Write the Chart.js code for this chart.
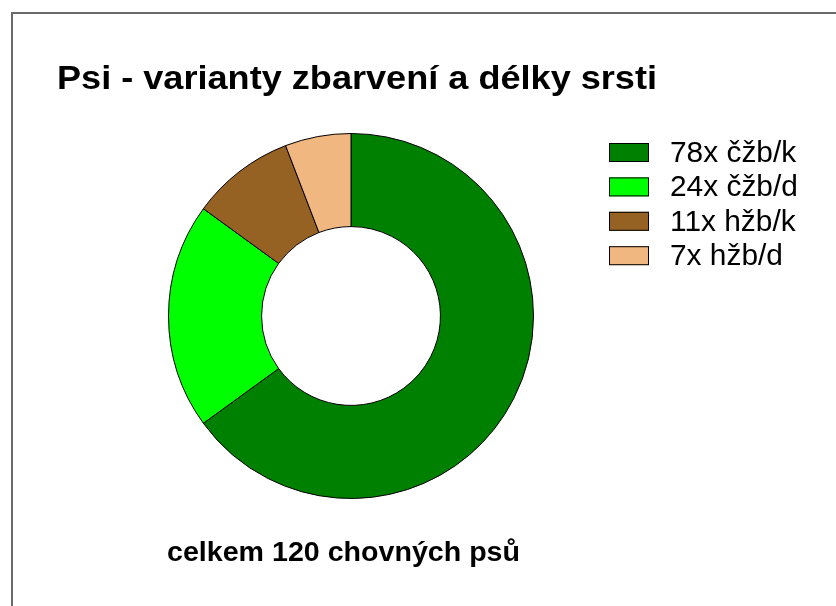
<!DOCTYPE html>
<html>
<head>
<meta charset="utf-8">
<script src="https://cdn.jsdelivr.net/npm/chart.js@4/dist/chart.umd.min.js"></script>
<style>
html,body{margin:0;padding:0;background:#fff;}
#wrap{position:relative;width:836px;height:606px;}
</style>
</head>
<body>
<div id="wrap"><canvas id="c" width="836" height="606"></canvas></div>
<script>
const categories = ["78x čžb/k", "24x čžb/d", "11x hžb/k", "7x hžb/d"];
const counts = [78, 24, 11, 7];
const sliceColors = ["#008000", "#00FF00", "#966224", "#F1B780"];
const titleText = "Psi - varianty zbarvení a délky srsti";
const subtitleText = "celkem 120 chovných psů";

function drawScaledText(ctx, text, x, y, font, sx) {
  ctx.save();
  ctx.font = font;
  ctx.translate(x, y);
  ctx.scale(sx, 1);
  ctx.fillText(text, 0, 0);
  ctx.restore();
}
function fitScale(ctx, text, font, targetWidth) {
  ctx.save();
  ctx.font = font;
  const w = ctx.measureText(text).width;
  ctx.restore();
  return targetWidth / w;
}

const decor = {
  id: 'decor',
  afterDraw(chart) {
    const ctx = chart.ctx;
    ctx.save();
    // frame
    ctx.strokeStyle = '#6a6a6a';
    ctx.lineWidth = 2;
    ctx.beginPath();
    ctx.moveTo(12, 606);
    ctx.lineTo(12, 13);
    ctx.lineTo(836, 13);
    ctx.stroke();
    ctx.fillStyle = '#000';
    ctx.textBaseline = 'alphabetic';
    const tf = 'bold 34px "Liberation Sans", Arial, sans-serif';
    drawScaledText(ctx, titleText, 57, 89, tf, fitScale(ctx, titleText, tf, 600));
    const sf = 'bold 28px "Liberation Sans", Arial, sans-serif';
    drawScaledText(ctx, subtitleText, 167, 561, sf, fitScale(ctx, subtitleText, sf, 353));
    // legend
    const labels = chart.data.labels;
    const ds = chart.data.datasets[0];
    const lf = '29px "Liberation Sans", Arial, sans-serif';
    labels.forEach((lab, i) => {
      const top = 143 + i * 34.4;
      ctx.fillStyle = ds.backgroundColor[i];
      ctx.fillRect(609, top, 40, 19);
      ctx.strokeStyle = '#000';
      ctx.lineWidth = 1;
      ctx.strokeRect(609.5, top + 0.5, 39, 18);
      ctx.fillStyle = '#000';
      drawScaledText(ctx, lab, 670, top + 19, lf, 1.03);
    });
    ctx.restore();
  }
};

new Chart(document.getElementById('c'), {
  type: 'doughnut',
  data: {
    labels: categories,
    datasets: [{
      data: counts,
      backgroundColor: sliceColors,
      borderColor: '#000',
      borderWidth: 1,
      borderAlign: 'center'
    }]
  },
  options: {
    responsive: false,
    animation: false,
    cutout: '49%',
    layout: { padding: { left: 168, right: 302, top: 133, bottom: 107 } },
    plugins: {
      legend: { display: false },
      tooltip: { enabled: false },
      title: { display: false }
    }
  },
  plugins: [decor]
});
</script>
</body>
</html>
